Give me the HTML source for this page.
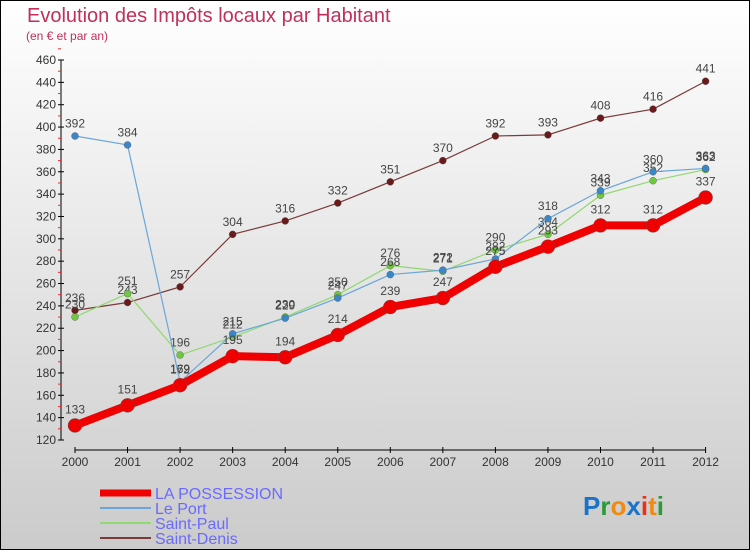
<!DOCTYPE html>
<html><head><meta charset="utf-8"><style>
body{margin:0;}
svg{display:block;font-family:"Liberation Sans","DejaVu Sans",sans-serif;}
</style></head><body>
<svg id="chart" width="750" height="550" viewBox="0 0 750 550">
<defs><linearGradient id="bg" x1="0" y1="0" x2="0" y2="1"><stop offset="0" stop-color="#ffffff"/><stop offset="1" stop-color="#cbcbcb"/></linearGradient></defs>
<rect x="0.5" y="0.5" width="749" height="549" fill="url(#bg)" stroke="#000"/>
<text x="27" y="22" font-size="20" fill="#c0305a">Evolution des Impôts locaux par Habitant</text>
<text x="26" y="40" font-size="12" fill="#c0305a">(en € et par an)</text>
<g id="axes"></g>
<g id="series"></g>
<g id="legend"></g>
<g font-size="26" font-weight="bold">
<text x="583" y="515"><tspan fill="#1a73c8">P</tspan><tspan fill="#2a9a3a">r</tspan><tspan fill="#f08a10">o</tspan><tspan fill="#1a73c8">x</tspan><tspan fill="#e8301a">i</tspan><tspan fill="#f08a10">t</tspan><tspan fill="#2a9a3a">i</tspan></text>
</g>
</svg>
<script>
const years=["2000","2001","2002","2003","2004","2005","2006","2007","2008","2009","2010","2011","2012"];
const yTicks=[120,140,160,180,200,220,240,260,280,300,320,340,360,380,400,420,440,460];
const possession=[133,151,169,195,194,214,239,247,275,293,312,312,337];
const lePort=[392,384,172,215,229,247,268,272,282,318,343,360,363];
const saintPaul=[230,251,196,212,230,250,276,271,290,304,339,352,362];
const saintDenis=[236,243,257,304,316,332,351,370,392,393,408,416,441];
const NS="http://www.w3.org/2000/svg";
const x=i=>75+i*52.55;
const y=v=>440-(v-120)*(380/340);
function mk(t,a,p){const e=document.createElementNS(NS,t);for(const k in a)e.setAttribute(k,a[k]);p.appendChild(e);return e;}
const axes=document.getElementById('axes');
const ya=mk('line',{x1:61,y1:60,x2:61,y2:440,stroke:'#000'},axes);


yTicks.forEach(v=>{
 mk('line',{x1:58,y1:y(v),x2:64,y2:y(v),stroke:'#000'},axes);
 mk('line',{x1:58,y1:y(v+10),x2:61,y2:y(v+10),stroke:'#e03030'},axes);
 const t=mk('text',{x:56,y:y(v)+4,'font-size':12,fill:'#333','text-anchor':'end'},axes);t.textContent=v;
 
 
});
const xa=mk('line',{x1:75,y1:450,x2:x(12),y2:450,stroke:'#000'},axes);


years.forEach((yr,i)=>{
 mk('line',{x1:x(i),y1:447,x2:x(i),y2:453,stroke:'#000'},axes);
 const t=mk('text',{x:x(i),y:466,'font-size':12,fill:'#333','text-anchor':'middle'},axes);t.textContent=yr;
 
 
});
const sg=document.getElementById('series');
const defs=[
 {d:saintDenis,c:'#7a3a3a',w:1.2,r:3.5,f:'#6a1a1a',n:'saint-denis'},
 {d:saintPaul,c:'#90d870',w:1.2,r:3.5,f:'#70c840',n:'saint-paul'},
 {d:lePort,c:'#6aa6d8',w:1.2,r:3.5,f:'#3a86c8',n:'le-port'},
 {d:possession,c:'#f00000',w:8,r:7,f:'#f00000',n:'la-possession'}];
defs.forEach(s=>{
 const g=mk('g',{},sg);
 
 
 const l=mk('polyline',{points:s.d.map((v,i)=>x(i)+','+y(v)).join(' '),fill:'none',stroke:s.c,'stroke-width':s.w,'stroke-linejoin':'round'},g);
 
 
 s.d.forEach((v,i)=>{
  const p=mk('circle',{cx:x(i),cy:y(v),r:s.r,fill:s.f,stroke:'#555','stroke-width':0.4},g);
  
  
  const t=mk('text',{x:x(i),y:y(v)-(s.r+5),'font-size':12,fill:'#444','text-anchor':'middle'},g);t.textContent=v;
  
  
 });
});
const lg=document.getElementById('legend');
const ld=[['LA POSSESSION','#f00000',7],['Le Port','#6aa6d8',2],['Saint-Paul','#90d870',2],['Saint-Denis','#7a3a3a',2]];
ld.forEach((e,i)=>{
 const yy=493+i*15;
 const g=mk('g',{},lg);
 
 
 mk('line',{x1:100,y1:yy,x2:151,y2:yy,stroke:e[1],'stroke-width':e[2]},g);
 const t=mk('text',{x:155,y:yy+6,'font-size':16,fill:'#6a6aff'},g);t.textContent=e[0];
});
</script>
</body></html>
